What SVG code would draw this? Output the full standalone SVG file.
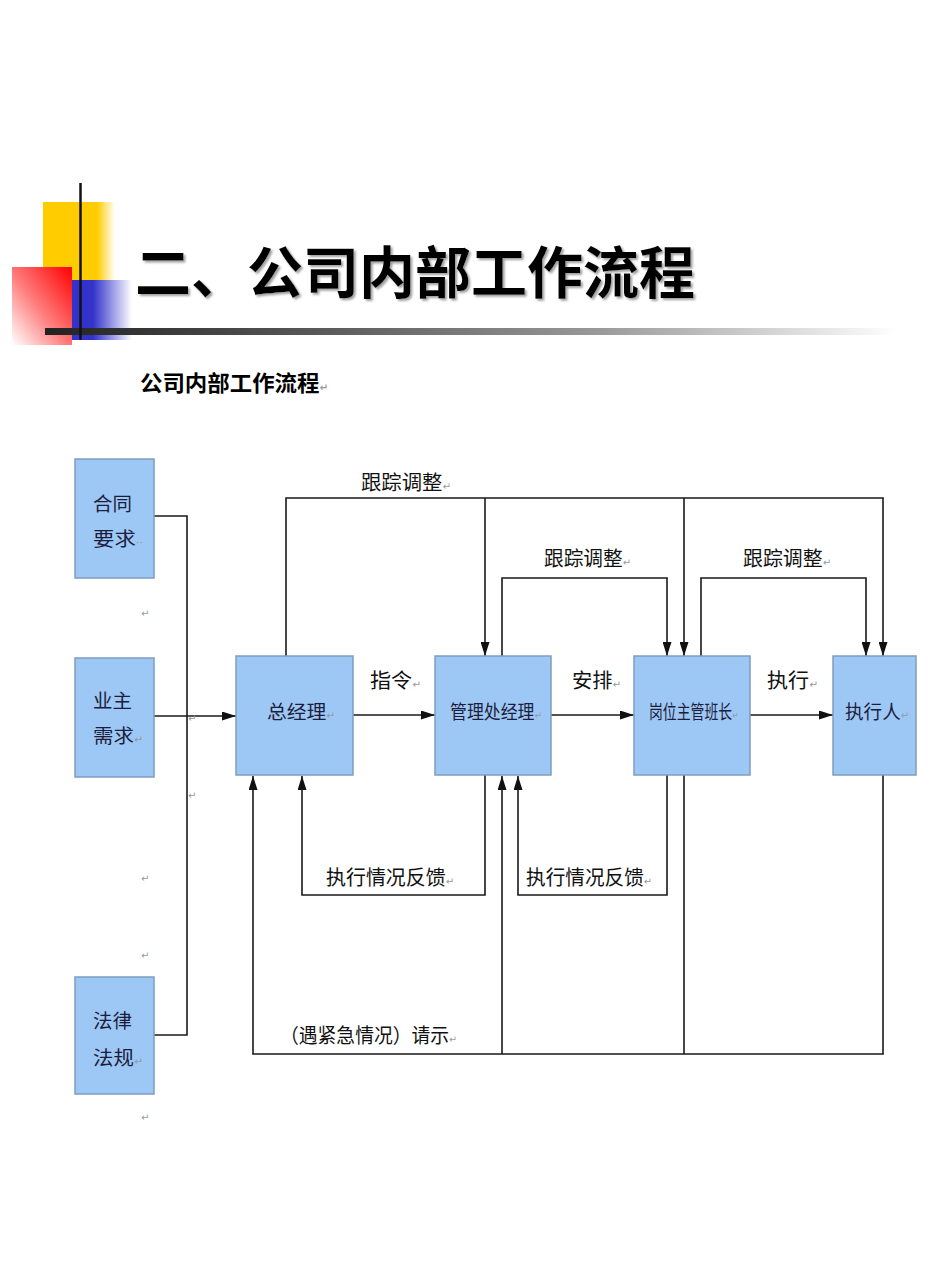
<svg xmlns="http://www.w3.org/2000/svg" width="950" height="1267" viewBox="0 0 950 1267">
<defs>
<linearGradient id="gY" x1="0" y1="0" x2="1" y2="0"><stop offset="0.75" stop-color="#FFCC00"/><stop offset="1" stop-color="#FFFFFF"/></linearGradient>
<linearGradient id="gR" x1="1" y1="0" x2="0" y2="1"><stop offset="0" stop-color="#FF0000"/><stop offset="0.55" stop-color="#FF8080"/><stop offset="1" stop-color="#FFFFFF"/></linearGradient>
<linearGradient id="gB" x1="0" y1="0" x2="1" y2="0"><stop offset="0.35" stop-color="#3333CC"/><stop offset="1" stop-color="#FFFFFF"/></linearGradient>
<linearGradient id="gBar" x1="0" y1="0" x2="1" y2="0"><stop offset="0" stop-color="#222222"/><stop offset="0.3" stop-color="#555555"/><stop offset="0.65" stop-color="#999999"/><stop offset="1" stop-color="#FFFFFF"/></linearGradient>
<marker id="ah" viewBox="0 0 14 9" refX="14" refY="4.5" markerWidth="14" markerHeight="9" markerUnits="userSpaceOnUse" orient="auto"><path d="M0,0 L14,4.5 L0,9 z" fill="#111"/></marker>
<filter id="sh" x="-5%" y="-10%" width="110%" height="130%"><feDropShadow dx="2" dy="2" stdDeviation="0.8" flood-color="#888" flood-opacity="0.8"/></filter>
</defs>
<style>
.box{fill:#9DC8F5;stroke:#7F9DBE;stroke-width:1.5}
.bt{font-family:"Noto Sans CJK SC","Noto Sans",sans-serif;font-size:19px;fill:#1C1C3C}
.lt{font-family:"Noto Sans CJK SC","Noto Sans",sans-serif;font-size:20px;fill:#111}
.pm{font-family:"DejaVu Sans",sans-serif;font-size:10px;fill:#999}
.ln{fill:none;stroke:#1a1a1a;stroke-width:1.6}
.ar{marker-end:url(#ah)}
</style>
<rect width="950" height="1267" fill="#FFFFFF"/>
<g id="header">
<rect x="43" y="202" width="72" height="80" fill="url(#gY)"/>
<rect x="12" y="267" width="60" height="78" fill="url(#gR)"/>
<rect x="72" y="280" width="60" height="60" fill="url(#gB)"/>
<rect x="45" y="328" width="852" height="7" fill="url(#gBar)"/>
<line x1="80.5" y1="183" x2="80.5" y2="340" stroke="#111" stroke-width="2.5"/>
<text x="135" y="293" font-family="Noto Sans CJK SC,sans-serif" font-size="56" font-weight="bold" fill="#000" textLength="560" lengthAdjust="spacingAndGlyphs" filter="url(#sh)">二、公司内部工作流程</text>
<text x="140" y="391" font-family="Noto Sans CJK SC,sans-serif" font-size="22" font-weight="bold" fill="#000" textLength="188" lengthAdjust="spacingAndGlyphs">公司内部工作流程<tspan class="pm">↵</tspan></text>
</g>
<g id="connectors">
<path class="ln" d="M154,516 H187 V1035 H154"/>
<path class="ln ar" d="M154,716 H236"/>
<path class="ln ar" d="M353,715 H435"/>
<path class="ln ar" d="M551,715 H634"/>
<path class="ln ar" d="M750,715 H833"/>
<path class="ln ar" d="M286,656 V498 H883 V656"/>
<path class="ln ar" d="M485,498 V656"/>
<path class="ln ar" d="M684,498 V656"/>
<path class="ln ar" d="M502,656 V578 H667 V656"/>
<path class="ln ar" d="M701,656 V578 H866 V656"/>
<path class="ln ar" d="M485,775 V895 H302 V776"/>
<path class="ln ar" d="M667,775 V895 H518 V776"/>
<path class="ln ar" d="M883,775 V1054 H253 V776"/>
<path class="ln" d="M684,775 V1054"/>
<path class="ln ar" d="M502,1054 V776"/>
</g>
<g id="labels">
<text x="361" y="490" class="lt" textLength="90" lengthAdjust="spacingAndGlyphs">跟踪调整<tspan class="pm">↵</tspan></text>
<text x="544" y="566" class="lt" textLength="87" lengthAdjust="spacingAndGlyphs">跟踪调整<tspan class="pm">↵</tspan></text>
<text x="743" y="566" class="lt" textLength="88" lengthAdjust="spacingAndGlyphs">跟踪调整<tspan class="pm">↵</tspan></text>
<text x="370" y="688" class="lt" textLength="51" lengthAdjust="spacingAndGlyphs">指令<tspan class="pm">↵</tspan></text>
<text x="572" y="688" class="lt" textLength="49" lengthAdjust="spacingAndGlyphs">安排<tspan class="pm">↵</tspan></text>
<text x="767" y="688" class="lt" textLength="51" lengthAdjust="spacingAndGlyphs">执行<tspan class="pm">↵</tspan></text>
<text x="326" y="885" class="lt" textLength="128" lengthAdjust="spacingAndGlyphs">执行情况反馈<tspan class="pm">↵</tspan></text>
<text x="526" y="885" class="lt" textLength="126" lengthAdjust="spacingAndGlyphs">执行情况反馈<tspan class="pm">↵</tspan></text>
<text transform="translate(280,1043) scale(0.94,1)" class="lt">（遇紧急情况）请示<tspan class="pm">↵</tspan></text>
<text x="141" y="617" class="pm">↵</text>
<text x="188" y="722" class="pm">↵</text>
<text x="188" y="799" class="pm">↵</text>
<text x="141" y="882" class="pm">↵</text>
<text x="141" y="959" class="pm">↵</text>
<text x="141" y="1121" class="pm">↵</text>
</g>
<g id="n-hetong">
<rect class="box" x="75" y="459" width="79" height="119"/>
<text x="93" y="511" class="bt" font-size="20" textLength="39" lengthAdjust="spacingAndGlyphs">合同</text>
<text x="93" y="546" class="bt" font-size="20" textLength="50" lengthAdjust="spacingAndGlyphs">要求<tspan class="pm">··</tspan></text>
</g>
<g id="n-yezhu">
<rect class="box" x="75" y="658" width="79" height="119"/>
<text x="93" y="708" class="bt" font-size="20" textLength="39" lengthAdjust="spacingAndGlyphs">业主</text>
<text x="93" y="743" class="bt" font-size="20" textLength="50" lengthAdjust="spacingAndGlyphs">需求<tspan class="pm">↵</tspan></text>
</g>
<g id="n-falv">
<rect class="box" x="75" y="977" width="79" height="117"/>
<text x="93" y="1028" class="bt" font-size="20" textLength="39" lengthAdjust="spacingAndGlyphs">法律</text>
<text x="93" y="1065" class="bt" font-size="20" textLength="50" lengthAdjust="spacingAndGlyphs">法规<tspan class="pm">↵</tspan></text>
</g>
<g id="n-zongjingli">
<rect class="box" x="236" y="656" width="117" height="119"/>
<text x="267" y="719" class="bt" textLength="68" lengthAdjust="spacingAndGlyphs">总经理<tspan class="pm">↵</tspan></text>
</g>
<g id="n-guanlichu">
<rect class="box" x="435" y="656" width="116" height="119"/>
<text transform="translate(450,719) scale(0.89,1)" class="bt">管理处经理<tspan class="pm">↵</tspan></text>
</g>
<g id="n-gangwei">
<rect class="box" x="634" y="656" width="116" height="119"/>
<text transform="translate(649,719) scale(0.73,1)" class="bt">岗位主管班长<tspan class="pm">↵</tspan></text>
</g>
<g id="n-zhixingren">
<rect class="box" x="833" y="656" width="83" height="119"/>
<text x="845" y="719" class="bt" textLength="64" lengthAdjust="spacingAndGlyphs">执行人<tspan class="pm">↵</tspan></text>
</g>
</svg>
